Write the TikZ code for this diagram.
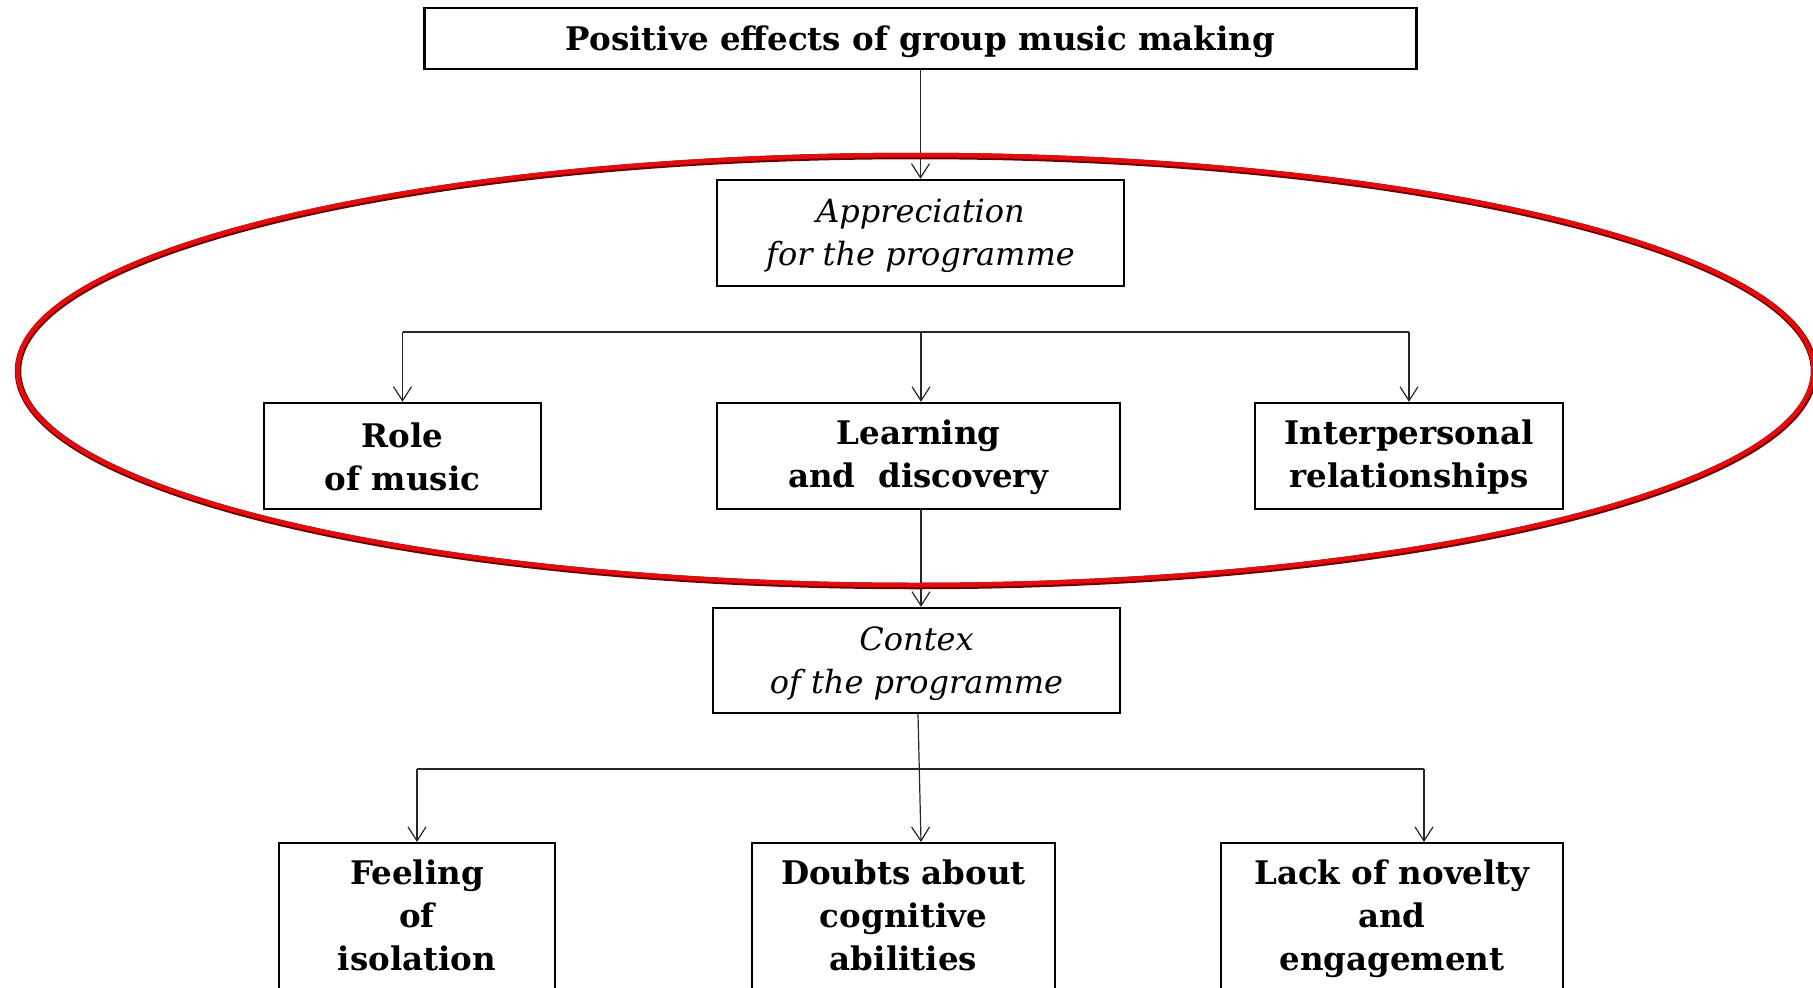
\documentclass[tikz,border=0pt]{standalone}
\usepackage{fontspec}
\newfontfamily\boldserif{DejaVu Serif}
\usetikzlibrary{arrows.meta}
\definecolor{ellred}{RGB}{228,12,12}
\definecolor{elldark}{RGB}{110,0,0}
\tikzset{
  box/.style={draw=black, line width=2.4pt, fill=white, inner sep=0pt, align=center},
  btxt/.style={font=\boldserif\fontsize{32.5}{43}\selectfont\bfseries, inner sep=0pt, align=center},
  itxt/.style={font=\boldserif\fontsize{32}{43}\selectfont\itshape, inner sep=0pt, align=center},
  conn/.style={draw=black!85, line width=1.2pt},
  arr/.style={conn, -{Straight Barb[length=14pt,width=18pt,line width=1.2pt]}},
}
\begin{document}
\begin{tikzpicture}[x=1pt,y=-1pt]
\useasboundingbox (0,0) rectangle (1813,988);
\clip (0,0) rectangle (1813,988);
% boxes
\node[box, minimum width=992, minimum height=61] (top) at (920.5,38.5) {};
\node[btxt] (toptxt) at (920.5,42) {Positive effects of group music making};
\node[box, minimum width=407, minimum height=106] (appr) at (920.5,233) {};
\node[itxt] (apprtxt) at (920.5,236) {Appreciation\\for the programme};
\node[box, minimum width=277, minimum height=106] (role) at (402.5,456) {};
\node[btxt] (roletxt) at (402.5,457) {Role\\of music};
\node[box, minimum width=403, minimum height=106] (learn) at (918.5,456) {};
\node[btxt] (learntxt) at (918.5,457) {Learning\\and\ \ discovery};
\node[box, minimum width=308, minimum height=106] (inter) at (1409,456) {};
\node[btxt] (intertxt) at (1409,457) {Interpersonal\\relationships};
\node[box, minimum width=407, minimum height=105] (contex) at (916.5,660.5) {};
\node[itxt] (contextxt) at (916.5,664) {Contex\\of the programme};
\node[box, minimum width=276, minimum height=300, anchor=north] (feel) at (417,842) {};
\node[btxt, anchor=north] (feeltxt) at (417,860) {Feeling\\of\\isolation};
\node[box, minimum width=303, minimum height=300, anchor=north] (doubts) at (903.5,842) {};
\node[btxt, anchor=north] (doubtstxt) at (903.5,860) {Doubts about\\cognitive\\abilities};
\node[box, minimum width=342, minimum height=300, anchor=north] (lack) at (1392,842) {};
\node[btxt, anchor=north] (lacktxt) at (1392,860) {Lack of novelty\\and\\engagement};
% branch coordinates
\coordinate (b1L) at (402.5,332);
\coordinate (b1M) at (921,332);
\coordinate (b1R) at (1409,332);
\coordinate (b2L) at (417,769);
\coordinate (b2R) at (1424,769);
\coordinate (lc) at (921,509);
% connectors
\draw[arr] (top.south) -- (appr.north);
\draw[conn] (b1L) -- (b1R);
\draw[arr] (b1L) -- (role.north);
\draw[arr] (b1M) -- (b1M |- learn.north);
\draw[arr] (b1R) -- (inter.north);
\draw[arr] (lc) -- (lc |- contex.north);
\draw[conn] (b2L) -- (b2R);
\draw[arr] (b2L) -- (feel.north);
\draw[arr] ([xshift=1.5pt]contex.south) -- ([xshift=17.5pt]doubts.north);
\draw[arr] (b2R) -- ([xshift=32pt]lack.north);
% red ellipse
\draw[elldark, line width=6.5pt] (916,371) ellipse [x radius=898, y radius=215];
\draw[ellred, line width=4.5pt] (915.5,370) ellipse [x radius=898, y radius=215];
\end{tikzpicture}
\end{document}
